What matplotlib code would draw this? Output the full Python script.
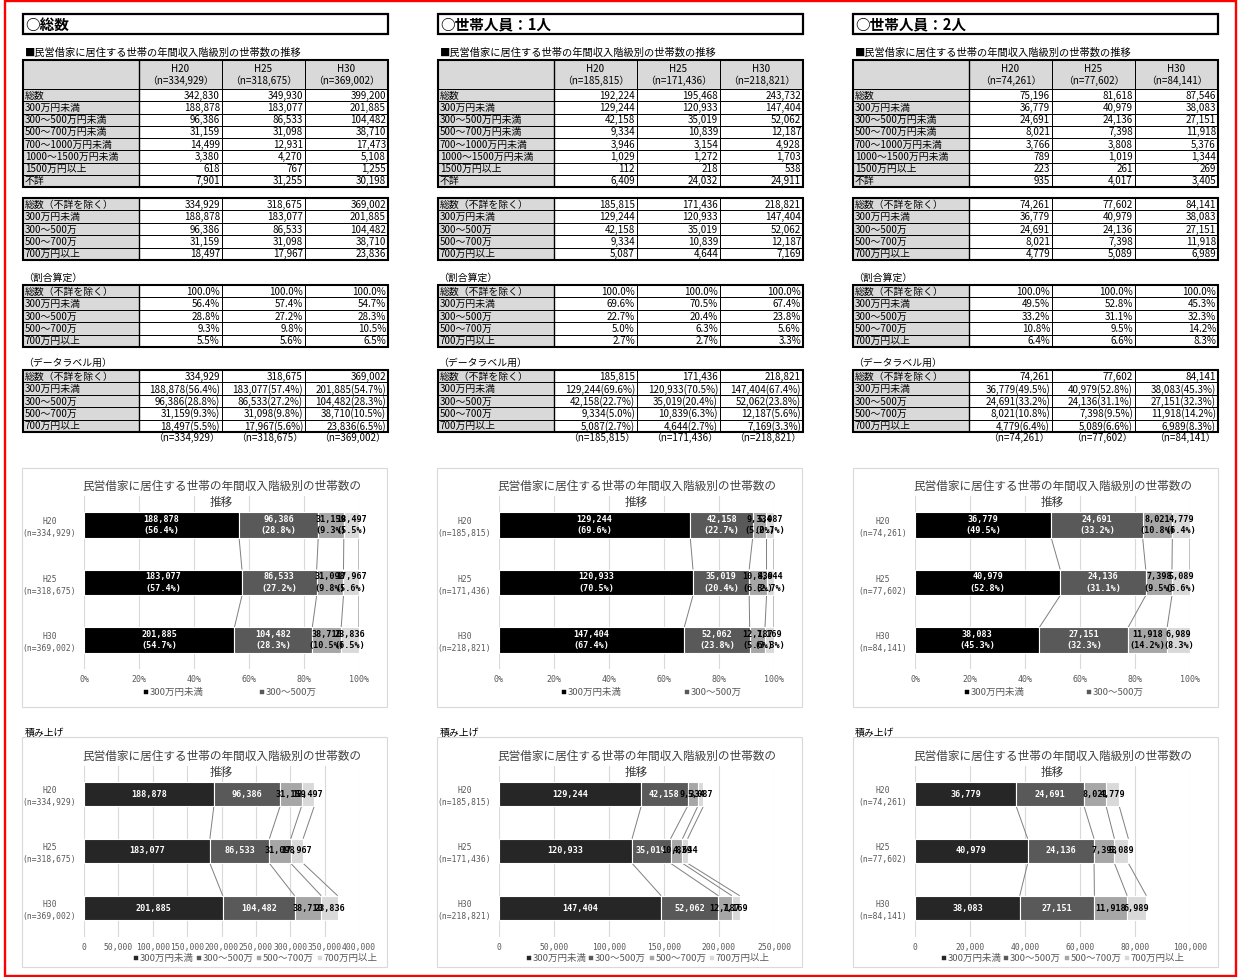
import numpy as np
import matplotlib
matplotlib.use("Agg")
import matplotlib.pyplot as plt
from matplotlib.patches import Rectangle

plt.rcParams['font.family'] = ['Noto Sans CJK JP', 'DejaVu Sans']

# ---------------- data ----------------
years = ["H20", "H25", "H30"]
panel_titles = ["○総数", "○世帯人員：1人", "○世帯人員：2人"]
raw_labels = ["総数", "300万円未満", "300～500万円未満", "500～700万円未満",
              "700～1000万円未満", "1000～1500万円未満", "1500万円以上", "不詳"]
band_labels = ["300万円未満", "300～500万", "500～700万", "700万円以上"]
total_label = "総数（不詳を除く）"

# total households
all_raw = [[342830, 349930, 399200], [188878, 183077, 201885], [96386, 86533, 104482],
           [31159, 31098, 38710], [14499, 12931, 17473], [3380, 4270, 5108],
           [618, 767, 1255], [7901, 31255, 30198]]
all_n = [334929, 318675, 369002]
all_bands = [[188878, 183077, 201885], [96386, 86533, 104482],
             [31159, 31098, 38710], [18497, 17967, 23836]]

# one-person households
one_raw = [[192224, 195468, 243732], [129244, 120933, 147404], [42158, 35019, 52062],
           [9334, 10839, 12187], [3946, 3154, 4928], [1029, 1272, 1703],
           [112, 218, 538], [6409, 24032, 24911]]
one_n = [185815, 171436, 218821]
one_bands = [[129244, 120933, 147404], [42158, 35019, 52062],
             [9334, 10839, 12187], [5087, 4644, 7169]]

# two-person households
two_raw = [[75196, 81618, 87546], [36779, 40979, 38083], [24691, 24136, 27151],
           [8021, 7398, 11918], [3766, 3808, 5376], [789, 1019, 1344],
           [223, 261, 269], [935, 4017, 3405]]
two_n = [74261, 77602, 84141]
two_bands = [[36779, 40979, 38083], [24691, 24136, 27151],
             [8021, 7398, 11918], [4779, 5089, 6989]]

stack_max = [400000, 250000, 100000]
stack_step = [50000, 50000, 20000]

panels = [(panel_titles[0], all_raw, all_n, all_bands),
          (panel_titles[1], one_raw, one_n, one_bands),
          (panel_titles[2], two_raw, two_n, two_bands)]

# ---------------- styling ----------------
GRAY = "#d9d9d9"
TXT = "#595959"
MONO = "DejaVu Sans Mono"
share_colors = ["#000000", "#595959", "#a6a6a6", "#d9d9d9"]
stack_colors = ["#262626", "#595959", "#a6a6a6", "#d9d9d9"]
label_colors = ["white", "white", "black", "black"]
subtitle = "■民営借家に居住する世帯の年間収入階級別の世帯数の推移"
chart_title = "民営借家に居住する世帯の年間収入階級別の世帯数の\n推移"

W, H = 1239, 977
fig = plt.figure(figsize=(W / 100, H / 100), dpi=100)
base = fig.add_axes([0, 0, 1, 1])
base.set_xlim(0, W)
base.set_ylim(H, 0)
base.axis("off")


def box(x0, y0, x1, y1, fc="none", ec="black", lw=0.7, z=1):
    base.add_patch(Rectangle((x0, y0), x1 - x0, y1 - y0, facecolor=fc,
                             edgecolor=ec, linewidth=lw, zorder=z))


def rect_axes(l, t, r, b):
    return fig.add_axes([l / W, 1 - b / H, (r - l) / W, (b - t) / H])


def table(edges, top, row_h, rows, header=None, head_h=29, fs=7.1):
    y = top
    if header is not None:
        for ci in range(4):
            box(edges[ci], y, edges[ci + 1], y + head_h, fc=GRAY)
        for ci, (a, b) in enumerate(header):
            cx = (edges[ci + 1] + edges[ci + 2]) / 2
            base.text(cx, y + 8.5, a, ha="center", va="center", fontsize=fs, zorder=3)
            base.text(cx, y + 20.5, b, ha="center", va="center", fontsize=fs, zorder=3)
        y += head_h
    for label, vals in rows:
        box(edges[0], y, edges[1], y + row_h, fc=GRAY)
        base.text(edges[0] + 2, y + row_h / 2 + 0.5, label, ha="left", va="center",
                  fontsize=fs, zorder=3)
        for ci, v in enumerate(vals):
            box(edges[ci + 1], y, edges[ci + 2], y + row_h, fc="white")
            base.text(edges[ci + 2] - 2, y + row_h / 2 + 0.5, v, ha="right", va="center",
                      fontsize=fs, zorder=3)
        y += row_h
    box(edges[0], top, edges[-1], y, lw=1.5, z=2)
    box(edges[1] - 0.3, top, edges[1] + 0.3, y, lw=1.0, z=2)
    return y


def legend(entries, colors, xs, y):
    for name, col, x in zip(entries, colors, xs):
        box(x, y - 2.2, x + 4.4, y + 2.2, fc=col, ec=col, lw=0.3, z=5)
        base.text(x + 5.5, y, name, ha="left", va="center", fontsize=6.8,
                  color=TXT, zorder=5)


def series_lines(ax, cums, h):
    for k in range(cums.shape[0]):
        for j in range(cums.shape[1] - 1):
            ax.plot([cums[k, j], cums[k, j + 1]], [j + h / 2, j + 1 - h / 2],
                    color="#7f7f7f", lw=0.7, zorder=1, solid_capstyle="butt")


def style_axes(ax, n_vals):
    ax.set_facecolor("none")
    for s in ax.spines.values():
        s.set_visible(False)
    ax.set_ylim(2.5, -0.5)
    ax.set_yticks(range(3))
    ax.set_yticklabels([f"{yr}\n(n={n:,})" for yr, n in zip(years, n_vals)],
                       fontsize=5.8, family=MONO, color=TXT, multialignment="center",
                       linespacing=1.45)
    ax.tick_params(axis="both", length=0)
    ax.tick_params(axis="y", pad=5.5)
    ax.tick_params(axis="x", pad=4.5)
    ax.grid(axis="x", color=GRAY, lw=0.8)
    ax.grid(axis="y", visible=False)
    ax.set_axisbelow(True)


col_off = [0, 415, 830]
plot_left = [84, 499, 915]
plot_w = 275
share_leg = [(60, 176), (63, 186), (50, 172)]
stack_leg = [(50, 113, 173, 234), (28, 90, 151, 211), (27, 89, 150, 210)]

# outer red frame
box(5, 1.3, 1235.5, 975.5, ec="#ff0000", lw=1.7, z=10)

for c, (ptitle, raw, n_vals, bands) in enumerate(panels):
    o = col_off[c]
    edges = [23 + o, 139 + o, 222 + o, 305 + o, 388 + o]

    # heading box
    box(23 + o, 14, 388 + o, 34, lw=1.6, z=2)
    base.text(25 + o, 24.5, ptitle, ha="left", va="center", fontsize=10.5,
              fontweight="bold", zorder=3)
    base.text(25 + o, 53, subtitle, ha="left", va="center", fontsize=7.4, zorder=3)

    # table 1: raw counts
    header = [(yr, f"（n={n:,}）") for yr, n in zip(years, n_vals)]
    rows1 = [(lab, [f"{v:,}" for v in vals]) for lab, vals in zip(raw_labels, raw)]
    table(edges, 60, 12.25, rows1, header=header)

    # table 2: excluding unknown
    rows2 = [(total_label, [f"{n:,}" for n in n_vals])]
    rows2 += [(lab, [f"{v:,}" for v in vals]) for lab, vals in zip(band_labels, bands)]
    table(edges, 198, 12.4, rows2)

    # table 3: shares
    base.text(23 + o, 278, "（割合算定）", ha="left", va="center", fontsize=7.1, zorder=3)
    rows3 = [(total_label, ["100.0%"] * 3)]
    rows3 += [(lab, [f"{v / n * 100:.1f}%" for v, n in zip(vals, n_vals)])
              for lab, vals in zip(band_labels, bands)]
    table(edges, 285, 12.4, rows3)

    # table 4: data label strings
    base.text(23 + o, 363, "（データラベル用）", ha="left", va="center", fontsize=7.1, zorder=3)
    rows4 = [(total_label, [f"{n:,}" for n in n_vals])]
    rows4 += [(lab, [f"{v:,}({v / n * 100:.1f}%)" for v, n in zip(vals, n_vals)])
              for lab, vals in zip(band_labels, bands)]
    table(edges, 370, 12.4, rows4)
    for ci, n in enumerate(n_vals):
        base.text(edges[ci + 2] - 2, 438, f"（n={n:,}）", ha="right", va="center",
                  fontsize=7.1, zorder=3)

    pl = plot_left[c]
    fl = pl - 62
    bands_arr = np.array(bands, dtype=float)
    n_arr = np.array(n_vals, dtype=float)

    # ---- 100% stacked chart ----
    box(fl, 467.5, fl + 365, 707, ec=GRAY, lw=0.8, fc="white", z=0.5)
    base.text(pl + plot_w / 2, 494.5, chart_title, ha="center", va="center",
              fontsize=8.4, color="#404040", linespacing=1.3, zorder=3)
    ax = rect_axes(pl, 496, pl + plot_w, 669)
    style_axes(ax, n_vals)
    h = 0.45
    left = np.zeros(3)
    cums = []
    for k in range(4):
        w = bands_arr[k] / n_arr * 100
        ax.barh(range(3), w, left=left, height=h, color=share_colors[k],
                edgecolor="white", lw=0.8, zorder=2)
        for j in range(3):
            ax.text(left[j] + w[j] / 2, j, f"{bands[k][j]:,}\n({w[j]:.1f}%)",
                    ha="center", va="center", fontsize=6.1, family=MONO,
                    fontweight="bold", color=label_colors[k], linespacing=1.35, zorder=4)
        left = left + w
        cums.append(left.copy())
    series_lines(ax, np.array(cums), h)
    ax.set_xlim(0, 100)
    ax.set_xticks(np.arange(0, 101, 20))
    ax.set_xticklabels([f"{t}%" for t in range(0, 101, 20)], fontsize=6,
                       family=MONO, color=TXT)
    legend(band_labels[:2], share_colors[:2], [pl + d for d in share_leg[c]], 692)

    # ---- stacked counts chart ----
    base.text(25 + o, 733, "積み上げ", ha="left", va="center", fontsize=7.1, zorder=3)
    box(fl, 737, fl + 365, 967, ec=GRAY, lw=0.8, fc="white", z=0.5)
    base.text(pl + plot_w / 2, 764.5, chart_title, ha="center", va="center",
              fontsize=8.4, color="#404040", linespacing=1.3, zorder=3)
    ax2 = rect_axes(pl, 765.5, pl + plot_w, 936.5)
    style_axes(ax2, n_vals)
    h2 = 0.43
    left = np.zeros(3)
    cums = []
    for k in range(4):
        w = bands_arr[k]
        ax2.barh(range(3), w, left=left, height=h2, color=stack_colors[k],
                 edgecolor="white", lw=0.8, zorder=2)
        for j in range(3):
            ax2.text(left[j] + w[j] / 2, j, f"{bands[k][j]:,}", ha="center", va="center",
                     fontsize=6.1, family=MONO, fontweight="bold",
                     color=label_colors[k], zorder=4)
        left = left + w
        cums.append(left.copy())
    series_lines(ax2, np.array(cums), h2)
    ticks = np.arange(0, stack_max[c] + 1, stack_step[c])
    ax2.set_xlim(0, stack_max[c])
    ax2.set_xticks(ticks)
    ax2.set_xticklabels([f"{t:,}" for t in ticks], fontsize=5.8, family=MONO, color=TXT)
    legend(band_labels, stack_colors, [pl + d for d in stack_leg[c]], 958)

fig.savefig("out.png", dpi=100, facecolor="white")
